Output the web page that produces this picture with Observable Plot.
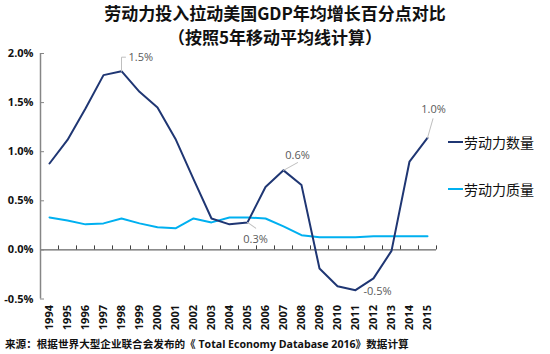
<!DOCTYPE html>
<html><head><meta charset="utf-8">
<script src="https://cdn.jsdelivr.net/npm/d3@7"></script>
<script src="https://cdn.jsdelivr.net/npm/@observablehq/plot@0.6"></script>
<style>
body{margin:0;background:#fff;}
#wrap{position:relative;width:550px;height:354px;overflow:hidden;background:#fff;}
#title{height:46px;box-sizing:border-box;padding-top:1px;text-align:center;font-family:"Noto Sans CJK SC",sans-serif;font-weight:bold;font-size:17px;line-height:24px;color:#111;}
#title div{height:24px;}
#chart{height:290px;}
#chart svg{display:block;}
#caption{position:absolute;left:5px;top:336px;font-family:"Open Sans","Noto Sans CJK SC",sans-serif;font-weight:bold;font-size:10.6px;line-height:16px;color:#111;white-space:nowrap;}
.leg{position:absolute;left:448px;display:flex;align-items:center;font-family:"Noto Sans CJK SC",sans-serif;font-size:14px;line-height:18px;color:#111;}
.leg span.sw{display:inline-block;width:15px;height:2px;margin-right:1px;}
</style>
</head><body>
<div id="wrap">
  <div id="title"><div>劳动力投入拉动美国GDP年均增长百分点对比</div><div>（按照5年移动平均线计算）</div></div>
  <div id="chart"></div>
  <div id="caption">来源：根据世界大型企业联合会发布的《 Total Economy Database 2016》数据计算</div>
  <div class="leg" style="top:133px"><span class="sw" style="background:#1f3673"></span>劳动力数量</div>
  <div class="leg" style="top:180px"><span class="sw" style="background:#00b0f0"></span>劳动力质量</div>
</div>
<script>
const years = [1994,1995,1996,1997,1998,1999,2000,2001,2002,2003,2004,2005,2006,2007,2008,2009,2010,2011,2012,2013,2014,2015];
const quantity = [0.88,1.12,1.44,1.78,1.82,1.61,1.45,1.13,0.72,0.32,0.26,0.28,0.64,0.81,0.66,-0.19,-0.37,-0.41,-0.29,-0.01,0.90,1.14];
const quality = [0.33,0.30,0.26,0.27,0.32,0.27,0.23,0.22,0.32,0.28,0.33,0.33,0.32,0.24,0.15,0.13,0.13,0.13,0.14,0.14,0.14,0.14];
const yTicks = [-0.5,0.0,0.5,1.0,1.5,2.0];
const labelYears = [1998,2005,2007,2011,2015];
const labelTexts = ["1.5%","0.3%","0.6%","-0.5%","1.0%"];

const data = years.map((year,i)=>({year, quantity:quantity[i], quality:quality[i]}));
const labels = labelYears.map((year,i)=>({year, value:quantity[years.indexOf(year)], text:labelTexts[i]}));
const boundaries = years.map(y=>y+0.5);
const xMin = years[0]-0.5, xMax = years[years.length-1]+0.5;

// label styling (pixel offsets relative to the labelled point)
const labelStyle = [
  {dx:7, dy:-14, anchor:"start"},
  {dx:8, dy:17, anchor:"middle"},
  {dx:14, dy:-15, anchor:"middle"},
  {dx:22, dy:1, anchor:"middle"},
  {dx:6, dy:-28, anchor:"middle"}
];
// leader lines (length px, rotation deg)
const leaderStyle = [
  {length:14, rotate:0, elbow:4},
  {length:10, rotate:125},
  {length:16, rotate:61},
  null,
  {length:20, rotate:16}
];
const lineShape = {draw(ctx,l){ctx.moveTo(0,0);ctx.lineTo(0,-l);}};
const elbowShape = (e)=>({draw(ctx,l){ctx.moveTo(0,0);ctx.lineTo(0,-l);ctx.lineTo(e,-l);}});

const labelMarks = labels.map((d,i)=>Plot.text([d],{x:"year",y:"value",text:"text",dx:labelStyle[i].dx,dy:labelStyle[i].dy,textAnchor:labelStyle[i].anchor,fill:"#595959",fontSize:11}));
const leaderMarks = labels.map((d,i)=>leaderStyle[i] ? Plot.vector([d],{x:"year",y:"value",length:leaderStyle[i].length,rotate:leaderStyle[i].rotate,anchor:"start",shape:leaderStyle[i].elbow?elbowShape(leaderStyle[i].elbow):lineShape,stroke:"#bfbfbf",strokeWidth:1}) : null).filter(Boolean);

const chart = Plot.plot({
  width:550, height:290,
  marginTop:7, marginBottom:37.5, marginLeft:40, marginRight:114,
  x:{type:"linear", domain:[xMin,xMax]},
  y:{domain:[-0.5,2.0]},
  style:{fontFamily:"'Open Sans', sans-serif", fontSize:"11px", background:"white", color:"#111", overflow:"visible"},
  marks:[
    Plot.ruleY([0],{stroke:"#404040",strokeWidth:1}),
    Plot.ruleX(boundaries,{y1:0,y2:0,insetTop:-4,stroke:"#404040",strokeWidth:1}),
    Plot.ruleX([xMin],{stroke:"#868686",strokeWidth:1.5}),
    Plot.ruleY(yTicks,{x1:xMin,x2:xMin,insetRight:-4,stroke:"#868686",strokeWidth:1}),
    Plot.axisY(yTicks,{tickSize:0,tickPadding:7,tickFormat:d=>d.toFixed(1)+"%",fontWeight:"bold",fill:"#111",label:null}),
    Plot.axisX(years,{tickSize:0,tickPadding:6,tickRotate:-90,tickFormat:d=>String(d),fontWeight:"bold",fill:"#111",label:null}),
    Plot.line(data,{x:"year",y:"quality",stroke:"#00b0f0",strokeWidth:2}),
    Plot.line(data,{x:"year",y:"quantity",stroke:"#1f3673",strokeWidth:2}),
    ...leaderMarks,
    ...labelMarks
  ]
});
document.getElementById("chart").appendChild(chart);
</script>
</body></html>
